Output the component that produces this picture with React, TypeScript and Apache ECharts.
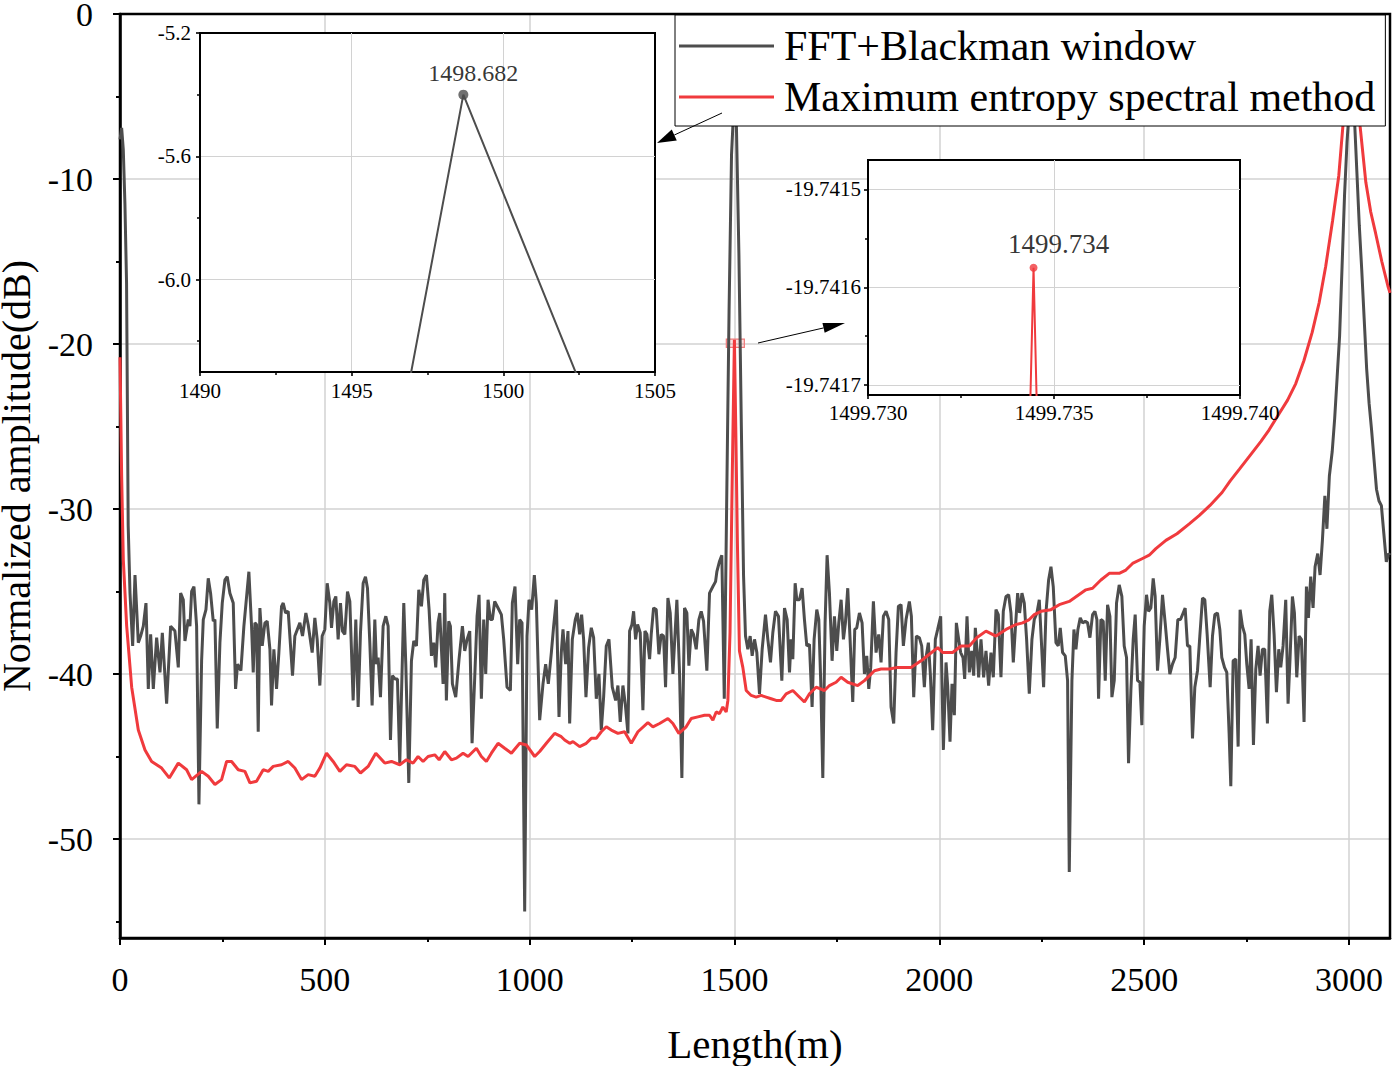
import React, { useEffect, useRef } from 'react';
import * as echarts from 'echarts';

const FONT = '"Liberation Serif", "Times New Roman", serif';

const SERIES_NAMES = ['FFT+Blackman window', 'Maximum entropy spectral method'];

const X_TICKS = [0, 500, 1000, 1500, 2000, 2500, 3000];
const X_MINOR = [250, 750, 1250, 1750, 2250, 2750];
const X_GRID = [500, 1000, 1500, 2000, 2500, 3000];
const Y_TICKS = [-50, -40, -30, -20, -10, 0];
const Y_MINOR = [-55, -45, -35, -25, -15, -5];
const Y_GRID = [-50, -40, -30, -20, -10];

const IN1_X_TICKS = [1490, 1495, 1500, 1505];
const IN1_X_MINOR = [1492.5, 1497.5, 1502.5];
const IN1_X_GRID = [1495, 1500];
const IN1_Y_TICKS = [-6.0, -5.6, -5.2];
const IN1_Y_MINOR = [-6.2, -5.8, -5.4];
const IN1_Y_GRID = [-6.0, -5.6];

const IN2_X_TICKS = [1499.73, 1499.735, 1499.74];
const IN2_X_MINOR = [1499.7325, 1499.7375];
const IN2_X_GRID = [1499.735];
const IN2_Y_TICKS = [-19.7417, -19.7416, -19.7415];
const IN2_Y_MINOR = [-19.74165, -19.74155];
const IN2_Y_GRID = [-19.7417, -19.7416, -19.7415];

// FFT + Blackman window (length m, dB)
const FFT: number[][] = [
[0,-7.6],[4,-6.9],[8,-8.2],[12,-11.5],[16,-16.3],[20,-31],[24.4,-35.1],[30.9,-38.3],[36.6,-34],[44.7,-38.1],[50.4,-37.7],[56.9,-37.1],[63.4,-35.7],[69.1,-40.9],[74.8,-37.6],[81.3,-40.9],[89.4,-37.8],[97.6,-39.9],[103.3,-37.5],[113.8,-41.8],[123.6,-37.1],[134.1,-37.4],[142.3,-39.6],[148,-35.1],[154.5,-35.5],[158.5,-38],[166.7,-36.7],[170.7,-37.1],[174.8,-35],[180.5,-34.7],[187,-37.1],[192.7,-47.9],[199.2,-39.2],[203.3,-36.7],[209.8,-36.1],[215.4,-34.2],[221.1,-35.1],[227.6,-36.8],[231.7,-36.7],[237.4,-43.3],[243.9,-38.1],[249.6,-35.7],[256.1,-34.3],[261.8,-34.1],[268.3,-35.1],[276.4,-35.7],[282.1,-40.9],[287,-39.4],[295.1,-39.8],[302.4,-37.1],[314.6,-33.8],[321.1,-37.1],[325.2,-39.9],[329.3,-36.9],[333.3,-37],[337.4,-43.5],[341.5,-36],[347.2,-38.3],[353.7,-36.9],[359.3,-36.8],[365.9,-38.5],[369.9,-41.9],[375.6,-38.5],[382.1,-40.9],[387.8,-38.7],[394.3,-35.9],[398.4,-35.7],[404.1,-36.3],[410.6,-36.2],[421.1,-40.1],[426.8,-37.7],[439,-36.9],[445.5,-37.7],[453.7,-36.3],[459.3,-37],[469.1,-38.7],[475.6,-36.6],[481.3,-37.9],[487.8,-40.7],[493.5,-37.7],[500,-37.3],[505.7,-34.5],[512.2,-35.7],[516.3,-37.2],[522,-35.6],[526.8,-35.3],[532.5,-37.9],[538.2,-35.7],[543.1,-37.4],[548.8,-37.6],[555.3,-35],[561,-35.6],[569.1,-41.6],[575.6,-36.7],[581.3,-42],[587,-37.5],[593.5,-34.5],[599.2,-34.1],[604.1,-34.8],[609.8,-38.1],[615.4,-41.9],[622,-36.7],[626,-39.4],[630.1,-39],[635.8,-41.4],[642.3,-37.1],[648.8,-36.5],[654.5,-37.1],[660.2,-44],[665,-40.1],[671.5,-40.3],[677.2,-40.3],[682.9,-45.4],[692.7,-35.7],[697.6,-39.4],[704.9,-46.6],[711.4,-39.2],[717.1,-38],[723.6,-38.3],[729.3,-34.9],[735.8,-35.9],[741.5,-34.3],[748,-34],[754.5,-36.1],[760.2,-38.9],[765.9,-38.1],[770.7,-39.6],[776.4,-36.9],[780.5,-36.3],
[788.6,-40.6],[792.7,-35.1],[796.7,-41.6],[802.4,-36.8],[806.5,-37.1],[811.4,-40.6],[819.5,-41.4],[827.6,-39.1],[835.8,-37.1],[841.5,-38.6],[847.2,-37.9],[853.7,-37.4],[859.4,-44.2],[865.9,-40.2],[871.6,-36.5],[876.4,-35.2],[882.1,-41.5],[887.8,-36.7],[892.7,-40],[898.4,-35.5],[904.1,-36.7],[908.9,-36.7],[914.6,-35.6],[922.8,-36],[930.9,-36.4],[936.6,-37.9],[944.7,-40.8],[952.9,-41],[957.7,-35.7],[964.2,-34.7],[970.7,-39.4],[975.6,-36.7],[981.3,-36.9],[987.8,-54.4],[993.5,-37.7],[998.4,-35.5],[1004.9,-36.1],[1011.4,-34],[1016.3,-35.7],[1024.4,-42.8],[1032.5,-40.6],[1039,-39.4],[1045.5,-40.6],[1052.9,-38.7],[1058.5,-37.1],[1065,-35.5],[1071.6,-42.6],[1077.2,-38.7],[1081.3,-37.3],[1087.8,-39.4],[1093.5,-37.4],[1097.6,-43],[1104.1,-37.9],[1111.4,-36.7],[1116.3,-36.3],[1122,-37.6],[1126.8,-36.4],[1131.7,-37.9],[1137.4,-41.4],[1143.9,-38.4],[1150.4,-37.2],[1156.1,-37.8],[1162.6,-41.5],[1169.1,-40],[1174.8,-43.4],[1180.5,-41.4],[1187,-38.3],[1193.5,-37.9],[1201.6,-40.8],[1209.8,-41.6],[1215.4,-40.7],[1221.1,-42.9],[1227.6,-40.7],[1233.3,-41.8],[1239.8,-43.6],[1243.9,-37.4],[1249.6,-37],[1253.7,-36.2],[1258.5,-37.9],[1263.4,-37],[1269.9,-37.5],[1276.4,-42.2],[1281.3,-37.4],[1286.2,-37.6],[1292.7,-39.1],[1296.7,-37.6],[1302.4,-36],[1308.9,-36.1],[1315.4,-38.8],[1321.1,-37.6],[1326.8,-37.7],[1331.7,-40.8],[1337.4,-35.4],[1343.1,-36.3],[1349.6,-40],[1359.3,-35.5],[1365.9,-40],[1371.5,-46.3],[1378,-36],[1383.7,-36.3],[1388.6,-39.5],[1394.3,-37.3],[1400,-37.6],[1406.5,-38.5],[1413,-36.7],[1418.7,-36.2],[1424.4,-36.8],[1432.5,-39.8],[1439,-35.1],[1447.2,-34.7],[1453.7,-34.4],[1456.9,-33.8],[1463,-33.2],[1469,-32.8],[1475,-41.5],[1480.682,-30],[1486.682,-18],[1492.682,-8.54],[1498.682,-5.4],[1504.682,-6.86],[1510.682,-14.5],[1516.682,-25],[1522,-34],[1526.8,-37.7],
[1532.5,-38.5],[1538.2,-37.7],[1543.1,-38.9],[1548.8,-37.9],[1554.5,-38.7],[1561,-41.2],[1567.5,-38.5],[1575.6,-36.4],[1581.3,-37.9],[1587.8,-39.3],[1593.5,-37.5],[1600,-36.2],[1607.3,-36.5],[1615.5,-40.4],[1622,-36],[1628.5,-36.7],[1634.2,-39.9],[1638.2,-37.9],[1642.3,-39.1],[1648,-34.5],[1652,-35.5],[1658.5,-35.5],[1665,-34.8],[1670.7,-36.7],[1676.4,-38.3],[1682.9,-38.2],[1689.4,-42],[1694.3,-37.9],[1700.8,-36.1],[1705.7,-36.7],[1710.6,-40.6],[1715.5,-46.3],[1721.1,-36.9],[1726,-32.8],[1731.7,-35.1],[1738.2,-39.2],[1743.9,-36.5],[1749.6,-38.6],[1754.5,-36.9],[1760.2,-35.5],[1765.9,-37.9],[1770.7,-36.9],[1776.4,-34.8],[1782.1,-37.9],[1788.6,-41.7],[1793.5,-37.3],[1798.4,-37.2],[1804.9,-36.3],[1811.4,-36.9],[1817.1,-40],[1822.8,-38.9],[1827.7,-40.9],[1832.5,-39.6],[1839,-35.6],[1845.5,-38.7],[1852,-37.6],[1857.7,-39.3],[1863.4,-36.5],[1869.9,-36.2],[1876.4,-36.7],[1882.1,-42],[1888.6,-43],[1894.3,-38.7],[1900,-35.9],[1906.5,-35.8],[1912.2,-38.3],[1918.7,-36.7],[1926.8,-35.6],[1931.7,-36.5],[1937.4,-41.4],[1943.9,-37.7],[1951.2,-37.8],[1956.9,-38.3],[1963.4,-40.8],[1967.5,-39],[1973.2,-38.1],[1978,-40],[1983.7,-43.4],[1990.2,-37.9],[1995.9,-37.3],[2003.2,-36.5],[2009.8,-44.6],[2016.3,-39.3],[2020.3,-40.7],[2026,-44.1],[2030.9,-40.6],[2036.6,-42.5],[2041.5,-36.9],[2047.2,-37.9],[2052,-38.7],[2057.7,-39],[2061.8,-40.3],[2067.5,-36.5],[2073.2,-39.9],[2078.9,-38.6],[2083.8,-40.1],[2087.8,-37.2],[2091.9,-38.5],[2095.9,-40.2],[2101.6,-37.9],[2108.1,-40.2],[2113.8,-38.6],[2120.3,-40.7],[2126,-38.7],[2131.7,-40.2],[2138.2,-36.1],[2143.9,-36.4],[2150.4,-40.2],[2156.1,-36.2],[2162.6,-35.3],[2169.1,-35.2],[2174.8,-36.3],[2180.5,-39.3],[2185.4,-37.3],[2191.1,-35.1],[2195.9,-36.3],[2201.6,-35.1],[2207.3,-35.7],[2213,-37.9],[2219.5,-41.2],[2226,-37.9],[2231.7,-36.7],[2238.2,-36.3],[2243.9,-35.5],[2248.8,-37.9],[2254.5,-40.8],[2260.2,-36.3],[2266.7,-34.3],[2272.4,-33.5],[2278,-34.7],[2284.6,-38.1],[2290.2,-38.3],[2295.1,-37.2],[2300.8,-38.7],[2307.3,-38.9],[2313,-40.4],[2317.1,-52],
[2323.6,-40.4],[2328.5,-37.3],[2333.4,-38.5],[2338.2,-37.3],[2343.9,-36.6],[2349.6,-36.9],[2356.1,-36.8],[2361.8,-36.9],[2367.5,-37.8],[2374,-36.4],[2379.7,-36.2],[2384.6,-36.7],[2388.6,-41.5],[2394.3,-36.7],[2400,-36.8],[2404.9,-40.4],[2410.6,-35.8],[2416.3,-36.5],[2421.2,-41.4],[2426.9,-40.4],[2432.5,-35.7],[2439,-34.6],[2445.5,-35.3],[2451.2,-38.3],[2456.9,-39],[2461.8,-45.4],[2467.5,-41],[2473.2,-37.9],[2478,-36.4],[2483.8,-40.4],[2489.5,-40.5],[2494.3,-43.1],[2500,-37.1],[2505.7,-35.2],[2510.6,-36.2],[2516.3,-36],[2522,-34.2],[2526.8,-35.3],[2532.5,-39.8],[2538.2,-37.9],[2544.7,-35.2],[2551.2,-36.9],[2556.9,-38.5],[2562.6,-40],[2569.1,-39.4],[2575.6,-39],[2582.1,-36.7],[2588.6,-36.7],[2595.1,-36.3],[2600,-36],[2605.7,-38.3],[2611.4,-38.3],[2617.9,-43.9],[2623.6,-40.8],[2630.1,-39.8],[2635.8,-37.7],[2642.3,-35.4],[2648,-35.5],[2653.7,-37.6],[2661,-40.8],[2666.7,-37.7],[2672.4,-36.4],[2678.9,-36.3],[2684.6,-37.3],[2689.4,-39],[2696,-39.6],[2701.6,-39.9],[2707.3,-43.6],[2711.4,-46.8],[2717.1,-39.2],[2723.6,-39.1],[2729.3,-44.4],[2734.1,-36.1],[2739.8,-37.1],[2745.5,-37.6],[2750.4,-39.4],[2756.1,-40.9],[2761,-37.9],[2766.7,-44.3],[2772.4,-39.7],[2778,-38.3],[2782.9,-40.1],[2788.6,-38.5],[2794.3,-38.5],[2800.8,-43],[2806.5,-36.2],[2811.4,-35.2],[2817.1,-37.6],[2822.8,-41.1],[2828.5,-38.5],[2833.3,-39.6],[2839,-38.3],[2845.5,-35.5],[2851.2,-41.8],[2856.1,-39],[2861.8,-35.3],[2866.7,-36.3],[2872.4,-40.2],[2878,-37.7],[2883.8,-37.9],[2890.2,-42.9],[2896,-34.7],[2900.8,-36.6],[2906.5,-34.1],[2912.2,-36],[2917.1,-33.5],[2923.6,-32.7],[2929.3,-34],[2935,-31.9],[2941,-29.2],[2946,-31.2],[2952,-28],[2959,-26.5],[2965,-24.5],[2971,-22],[2977,-19.5],[2983,-15.3],[2989,-11],[2995,-7.8],[3001,-5.6],[3007,-4.9],[3013,-6.2],[3019,-9.5],[3025,-12.8],[3031,-15.5],[3037,-18.5],[3043,-21.5],[3049,-23.6],[3055,-25.2],[3061,-27],[3067,-28.8],[3073,-29.5],[3079,-29.8],[3085,-31.5],[3091,-33.2],[3097,-32.7],[3100,-32.8]
];

// Maximum entropy spectral method (length m, dB)
const MESM: number[][] = [
[0,-20.8],[4,-28],[8.1,-33.1],[16.3,-37.1],[28.5,-40.8],[44.7,-43.4],[61,-44.6],[77.2,-45.3],[101.6,-45.7],[120.3,-46.3],[142.3,-45.4],[162.6,-45.8],[174.8,-46.4],[199.2,-45.9],[215.4,-46.2],[231.7,-46.7],[248,-46.4],[260.2,-45.3],[272.4,-45.3],[288.6,-45.8],[304.9,-45.9],[317.1,-46.6],[333.3,-46.5],[349.6,-45.8],[361.8,-45.9],[374,-45.6],[394.3,-45.5],[410.6,-45.3],[426.8,-45.7],[443.1,-46.4],[459.3,-46.1],[475.6,-46.2],[487.8,-45.7],[504.1,-44.8],[520.3,-45.3],[536.6,-45.9],[552.8,-45.5],[573.2,-45.6],[587,-46],[605.7,-45.6],[624.4,-44.8],[646.3,-45.4],[662.6,-45.3],[682.9,-45.5],[699.2,-45.2],[715.4,-45.4],[727.6,-45],[739.8,-45.3],[752,-45],[768.3,-44.9],[778.9,-45.2],[792.7,-44.7],[809,-45.2],[821.1,-45.1],[837.4,-44.8],[849.6,-45],[869.9,-44.5],[882.1,-45],[894.3,-45.3],[906.5,-44.8],[922.8,-44.2],[939,-44.5],[955.3,-44.8],[975.6,-44.2],[991.9,-44.3],[1012.2,-45],[1024.4,-44.7],[1040.7,-44.2],[1061,-43.6],[1077.2,-43.8],[1085.4,-44],[1097.6,-44.2],[1105.7,-44.1],[1122,-44.4],[1138.2,-44.2],[1150.4,-43.9],[1162.6,-43.9],[1174.8,-43.5],[1187,-43.2],[1199.2,-43.4],[1215.4,-43.6],[1231.7,-43.5],[1248,-44.2],[1264.2,-43.5],[1288.6,-42.95],[1300.8,-43.2],[1317.1,-43],[1337.4,-42.7],[1349.6,-43],[1364.2,-43.6],[1382,-43.2],[1394.3,-42.7],[1410.6,-42.6],[1426.8,-42.5],[1439,-42.5],[1447.2,-42.8],[1455.3,-42.3],[1463.4,-42.4],[1471.5,-42],[1479.7,-42.3],[1483.8,-41.6],[1489,-37.5],[1494.5,-28],[1499.73445,-19.74158],[1503,-25],[1507,-32],[1512,-38.6],[1520.3,-39.6],[1528.5,-41],[1540.7,-41.3],[1552.9,-41.4],[1565,-41.3],[1577.2,-41.4],[1589.4,-41.5],[1601.6,-41.6],[1613.8,-41.6],[1626,-41.2],[1642.3,-41],[1654.5,-41.3],[1670.7,-41.7],[1683,-41.2],[1699.2,-40.8],[1719.5,-41],[1731.7,-40.7],[1748,-40.5],[1760.2,-40.2],[1776.4,-40.5],[1800.8,-40.7],[1817.1,-40.4],[1841.5,-39.8],[1857.7,-39.7],[1878,-39.7],[1898.4,-39.6],[1930.9,-39.6],[1955.3,-39.2],[1975.6,-38.8],[1996,-38.4],[2008.1,-38.7],[2032.5,-38.7],[2052.9,-38.3],[2073.2,-38.3],[2091.1,-37.8],[2113.8,-37.4],[2138.2,-37.7],[2162.6,-37.3],[2187,-37],[2203.3,-36.9],[2219.5,-36.7],[2231.7,-36.4],[2248,-36.2],[2272.4,-36.1],[2292.7,-35.8],[2317.1,-35.6],[2357.7,-34.9],[2374,-34.8],[2394.3,-34.3],[2414.7,-33.9],[2439,-33.9],[2455.3,-33.7],[2471.6,-33.3],[2496,-33],[2512.2,-32.8],[2528.5,-32.4],[2552.9,-31.9],[2580,-31.5],[2610,-30.9],[2634,-30.4],[2660,-29.8],[2690,-29],[2710,-28.3],[2732,-27.6],[2760,-26.7],[2785,-25.9],[2805,-25.2],[2830,-24.2],[2850,-23.4],[2870,-22.4],[2890,-21],[2910,-19.3],[2927,-17.5],[2943,-15.3],[2960,-12.5],[2975,-9.8],[2985,-6.8],[2995,-3.8],[3006,-1.5],[3016,-3.6],[3027,-6.8],[3041,-10.2],[3053,-12],[3065,-13.3],[3080,-15],[3095,-16.5],[3100,-16.9]
];

const peakIn = (data: number[][], lo: number, hi: number) =>
  data.filter((p) => p[0] > lo && p[0] < hi).reduce((a, b) => (b[1] > a[1] ? b : a));

const FFT_PEAK = peakIn(FFT, 1490, 1505);
const MESM_PEAK = peakIn(MESM, 1490, 1510);

const BLACK = '#4d4d4d';
const RED = '#f03a3d';
const GRIDLINE = '#d2d2d2';

function majorAxis(o: any) {
  const {
    grid, min, max, ticks, fmt, fontSize, margin, tickLen, lineW, position, name, nameGap, nameSize, z, lineHeight,
  } = o;
  return {
    type: 'value', gridIndex: grid, min, max, position, z,
    axisLine: { show: true, onZero: false, lineStyle: { color: '#000', width: lineW } },
    axisTick: { show: true, customValues: ticks, length: tickLen, lineStyle: { color: '#000', width: lineW * 0.8 } },
    axisLabel: { show: true, customValues: ticks, formatter: fmt, fontFamily: FONT, fontSize, color: '#000', margin, lineHeight },
    splitLine: { show: false },
    minorTick: { show: false },
    name, nameLocation: 'middle', nameGap,
    nameTextStyle: { fontFamily: FONT, fontSize: nameSize, color: '#000' },
  };
}

function minorAxis(o: any) {
  const { grid, min, max, ticks, tickLen, lineW, position, z } = o;
  return {
    type: 'value', gridIndex: grid, min, max, position, offset: 0, z,
    axisLine: { show: false, onZero: false },
    axisTick: { show: true, customValues: ticks, length: tickLen, lineStyle: { color: '#000', width: lineW } },
    axisLabel: { show: false },
    splitLine: { show: false },
  };
}

function gridAxis(o: any) {
  const { grid, min, max, ticks, position, z, width } = o;
  return {
    type: 'value', gridIndex: grid, min, max, position, offset: 0, z,
    axisLine: { show: false, onZero: false },
    axisTick: { show: false, customValues: ticks },
    axisLabel: { show: false },
    splitLine: { show: true, lineStyle: { color: GRIDLINE, width } },
  };
}

function arrow(x1: number, y1: number, x2: number, y2: number, head: number, half: number) {
  const dx = x2 - x1, dy = y2 - y1;
  const len = Math.hypot(dx, dy);
  const ux = dx / len, uy = dy / len;
  const bx = x2 - ux * head, by = y2 - uy * head;
  return [
    { type: 'line', z: 100, shape: { x1, y1, x2: bx, y2: by }, style: { stroke: '#000', lineWidth: 1 } },
    {
      type: 'polygon', z: 100,
      shape: { points: [[x2, y2], [bx - uy * half, by + ux * half], [bx + uy * half, by - ux * half]] },
      style: { fill: '#000' },
    },
  ];
}

export default function App() {
  const ref = useRef<HTMLDivElement>(null);
  useEffect(() => {
    document.body.style.margin = '0';
    const chart = echarts.init(ref.current!, null, { renderer: 'svg' });
    const option: any = {
      animation: false,
      backgroundColor: '#fff',
      textStyle: { fontFamily: FONT },
      grid: [
        { left: 120, top: 14, width: 1270, height: 924, show: true, borderColor: '#000', borderWidth: 2.5, backgroundColor: 'transparent', z: 1, outerBoundsMode: 'none', containLabel: false },
        { left: 200, top: 33, width: 455, height: 339, show: true, borderColor: '#000', borderWidth: 2, backgroundColor: '#fff', z: 5, outerBoundsMode: 'none', containLabel: false },
        { left: 868, top: 160, width: 372, height: 235, show: true, borderColor: '#000', borderWidth: 2, backgroundColor: '#fff', z: 5, outerBoundsMode: 'none', containLabel: false },
      ],
      xAxis: [
        majorAxis({ grid: 0, min: 0, max: 3100, ticks: X_TICKS, fmt: (v: number) => String(v), fontSize: 34, margin: 24, tickLen: 7, lineW: 2.5, position: 'bottom', name: 'Length(m)', nameGap: 85, nameSize: 41, z: 1 }),
        minorAxis({ grid: 0, min: 0, max: 3100, ticks: X_MINOR, tickLen: 4, lineW: 2, position: 'bottom', z: 1 }),
        majorAxis({ grid: 1, min: 1490, max: 1505, ticks: IN1_X_TICKS, fmt: (v: number) => String(v), fontSize: 21, margin: 8, tickLen: 4, lineW: 2, position: 'bottom', z: 6 }),
        minorAxis({ grid: 1, min: 1490, max: 1505, ticks: IN1_X_MINOR, tickLen: 3, lineW: 1.5, position: 'bottom', z: 6 }),
        majorAxis({ grid: 2, min: 1499.73, max: 1499.74, ticks: IN2_X_TICKS, fmt: (v: number) => v.toFixed(3), fontSize: 21, margin: 7, tickLen: 4, lineW: 2, position: 'bottom', z: 6 }),
        minorAxis({ grid: 2, min: 1499.73, max: 1499.74, ticks: IN2_X_MINOR, tickLen: 3, lineW: 1.5, position: 'bottom', z: 6 }),
        gridAxis({ grid: 0, min: 0, max: 3100, ticks: X_GRID, position: 'bottom', z: 0, width: 1.5 }),
        gridAxis({ grid: 1, min: 1490, max: 1505, ticks: IN1_X_GRID, position: 'bottom', z: 6, width: 1 }),
        gridAxis({ grid: 2, min: 1499.73, max: 1499.74, ticks: IN2_X_GRID, position: 'bottom', z: 6, width: 1 }),
      ],
      yAxis: [
        majorAxis({ grid: 0, min: -56, max: 0, ticks: Y_TICKS, fmt: (v: number) => String(v), fontSize: 34, margin: 27, tickLen: 7, lineW: 2.5, position: 'left', name: 'Normalized amplitude(dB)', nameGap: 78, nameSize: 40, z: 1, lineHeight: 26 }),
        minorAxis({ grid: 0, min: -56, max: 0, ticks: Y_MINOR, tickLen: 4, lineW: 2, position: 'left', z: 1 }),
        majorAxis({ grid: 1, min: -6.3, max: -5.2, ticks: IN1_Y_TICKS, fmt: (v: number) => v.toFixed(1), fontSize: 21, margin: 9, tickLen: 4, lineW: 2, position: 'left', z: 6 }),
        minorAxis({ grid: 1, min: -6.3, max: -5.2, ticks: IN1_Y_MINOR, tickLen: 3, lineW: 1.5, position: 'left', z: 6 }),
        majorAxis({ grid: 2, min: -19.74171, max: -19.74147, ticks: IN2_Y_TICKS, fmt: (v: number) => v.toFixed(4), fontSize: 21, margin: 7, tickLen: 4, lineW: 2, position: 'left', z: 6 }),
        minorAxis({ grid: 2, min: -19.74171, max: -19.74147, ticks: IN2_Y_MINOR, tickLen: 3, lineW: 1.5, position: 'left', z: 6 }),
        gridAxis({ grid: 0, min: -56, max: 0, ticks: Y_GRID, position: 'left', z: 0, width: 1.5 }),
        gridAxis({ grid: 1, min: -6.3, max: -5.2, ticks: IN1_Y_GRID, position: 'left', z: 6, width: 1 }),
        gridAxis({ grid: 2, min: -19.74171, max: -19.74147, ticks: IN2_Y_GRID, position: 'left', z: 6, width: 1 }),
      ],
      legend: {
        show: true,
        data: SERIES_NAMES,
        orient: 'vertical',
        left: 675,
        top: 15,
        icon: 'rect',
        itemWidth: 95,
        itemHeight: 3,
        itemGap: 9,
        padding: [10, 10, 8, 4],
        backgroundColor: '#fff',
        borderColor: '#000',
        borderWidth: 1,
        borderRadius: 0,
        z: 10,
        textStyle: { fontFamily: FONT, fontSize: 42, color: '#000', padding: [0, 0, 0, 5] },
      },
      series: [
        {
          name: SERIES_NAMES[0], type: 'line', xAxisIndex: 0, yAxisIndex: 0, data: FFT,
          symbol: 'none', lineStyle: { color: BLACK, width: 3 }, itemStyle: { color: BLACK }, z: 2, silent: true,
        },
        {
          name: SERIES_NAMES[1], type: 'line', xAxisIndex: 0, yAxisIndex: 0, data: MESM,
          symbol: 'none', lineStyle: { color: RED, width: 3 }, itemStyle: { color: RED }, z: 3, silent: true,
          markArea: {
            silent: true,
            itemStyle: { color: 'rgba(240,80,80,0.18)', borderColor: '#f07a7a', borderWidth: 1.2 },
            data: [[{ coord: [1480, -19.7] }, { coord: [1524, -20.2] }]],
          },
        },
        {
          type: 'line', xAxisIndex: 2, yAxisIndex: 2, data: FFT, symbol: 'none',
          lineStyle: { color: BLACK, width: 2 }, z: 7, silent: true, clip: true,
        },
        {
          type: 'scatter', xAxisIndex: 2, yAxisIndex: 2, data: [FFT_PEAK], symbolSize: 10,
          itemStyle: { color: BLACK }, z: 8, silent: true,
          label: { show: true, position: 'top', distance: 5, offset: [10, 0], formatter: (p: any) => p.value[0].toFixed(3), fontFamily: FONT, fontSize: 24, color: '#000' },
        },
        {
          type: 'line', xAxisIndex: 4, yAxisIndex: 4, data: MESM, symbol: 'none',
          lineStyle: { color: RED, width: 2 }, z: 7, silent: true, clip: true,
        },
        {
          type: 'scatter', xAxisIndex: 4, yAxisIndex: 4, data: [MESM_PEAK], symbolSize: 8,
          itemStyle: { color: RED }, z: 8, silent: true,
          label: { show: true, position: 'top', distance: 6, offset: [25, 0], formatter: (p: any) => (Math.floor(p.value[0] * 1000) / 1000).toFixed(3), fontFamily: FONT, fontSize: 27, color: '#000' },
        },
      ],
      graphic: [
        ...arrow(722, 113, 657, 143, 19, 6),
        ...arrow(758, 343, 845, 323, 22, 5),
      ],
    };
    chart.setOption(option);
    return () => chart.dispose();
  }, []);
  return <div ref={ref} style={{ width: 1392, height: 1066 }} />;
}
